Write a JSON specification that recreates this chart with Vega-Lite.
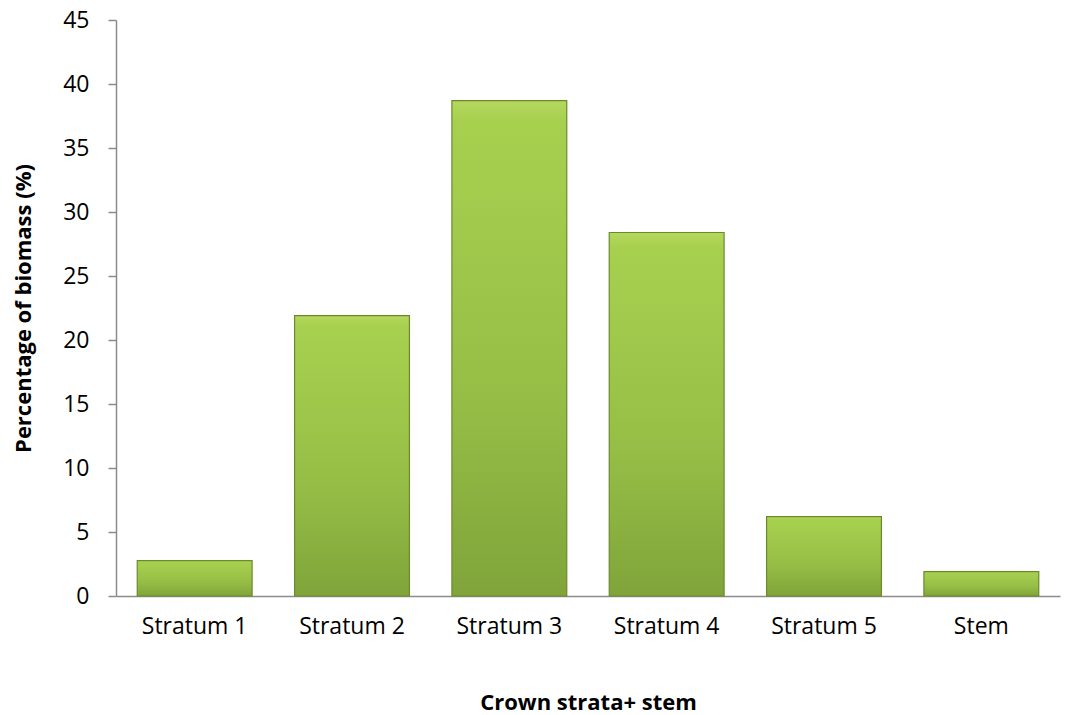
{
  "$schema": "https://vega.github.io/schema/vega-lite/v6.json",
  "autosize": {"type": "none"},
  "width": 944,
  "height": 576,
  "padding": {"left": 116, "top": 20, "right": 5, "bottom": 119},
  "background": "white",
  "data": {"values": [
    {"category": "Stratum 1", "value": 2.76},
    {"category": "Stratum 2", "value": 21.9},
    {"category": "Stratum 3", "value": 38.7},
    {"category": "Stratum 4", "value": 28.4},
    {"category": "Stratum 5", "value": 6.2},
    {"category": "Stem", "value": 1.9}
  ]},
  "config": {
    "view": {"stroke": null},
    "font": "Open Sans"
  },
  "mark": {
    "type": "bar",
    "stroke": "#6b8a2c",
    "strokeWidth": 1.2,
    "color": {
      "gradient": "linear",
      "x1": 0, "y1": 0, "x2": 0, "y2": 1,
      "stops": [
        {"offset": 0, "color": "#b4d85e"},
        {"offset": 0.04, "color": "#a8d04f"},
        {"offset": 0.6, "color": "#96be46"},
        {"offset": 1, "color": "#80a43a"}
      ]
    }
  },
  "encoding": {
    "x": {
      "field": "category",
      "type": "nominal",
      "sort": null,
      "scale": {"paddingInner": 0.27, "paddingOuter": 0.135},
      "axis": {
        "title": "Crown strata+ stem",
        "titleFontSize": 22,
        "titleFontWeight": "bold",
        "titleColor": "#000000",
        "titlePadding": 54,
        "labelAngle": 0,
        "labelFontSize": 23,
        "labelColor": "#000000",
        "labelPadding": 19,
        "ticks": false,
        "domainColor": "#8c8c8c",
        "domainWidth": 1.5
      }
    },
    "y": {
      "field": "value",
      "type": "quantitative",
      "scale": {"domain": [0, 45]},
      "axis": {
        "title": "Percentage of biomass (%)",
        "titleFontSize": 22,
        "titleFontWeight": "bold",
        "titleColor": "#000000",
        "titlePadding": 27,
        "values": [0, 5, 10, 15, 20, 25, 30, 35, 40, 45],
        "labelFontSize": 23,
        "labelColor": "#000000",
        "labelPadding": 19,
        "tickSize": 8,
        "tickColor": "#8c8c8c",
        "tickWidth": 1.5,
        "domainColor": "#8c8c8c",
        "domainWidth": 1.5,
        "grid": false
      }
    }
  }
}
